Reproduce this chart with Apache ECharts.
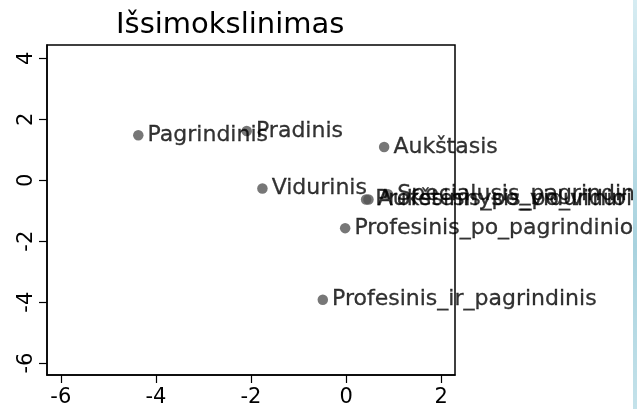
<!DOCTYPE html>
<html>
<head>
<meta charset="utf-8">
<script src="https://cdn.jsdelivr.net/npm/echarts@6/dist/echarts.min.js"></script>
<style>
  html, body { margin: 0; padding: 0; background: #fff; }
  #main { width: 637px; height: 409px; position: relative; }
  #strip { position: absolute; right: 0; top: 0; width: 4px; height: 409px;
    background: linear-gradient(to bottom, #d6ecf2, #a8d2de 60%, #c4e2ea); }
</style>
</head>
<body>
<div id="main"></div>
<div id="strip"></div>
<script>
// taškai
const names = ['Pagrindinis', 'Pradinis', 'Vidurinis', 'Aukštasis',
  'Profesinis_po_vidurinio', 'Aukštesnysis_po_vidurinio', 'Specialusis_pagrindinis',
  'Profesinis_po_pagrindinio', 'Profesinis_ir_pagrindinis'];
const xs = [-4.37, -2.09, -1.76, 0.80, 0.42, 0.47, 0.88, -0.02, -0.49];
const ys = [1.48, 1.62, -0.27, 1.09, -0.63, -0.63, -0.46, -1.57, -3.92];
const xTicks = [-6, -4, -2, 0, 2];
const yTicks = [-6, -4, -2, 0, 2, 4];

const font = 'DejaVu Sans';
let chart = echarts.init(document.getElementById('main'));

let axisBase = {
  axisLine: { show: true, onZero: false, lineStyle: { color: '#000', width: 1.5 } },
  axisTick: { show: true, length: 8, lineStyle: { color: '#000', width: 1.2 } },
  splitLine: { show: false },
};

chart.setOption({
  animation: false,
  title: {
    text: 'Išsimokslinimas',
    left: 111, top: 6,
    textStyle: { fontFamily: font, fontSize: 29, fontWeight: 'normal', color: '#000' }
  },
  grid: { left: 47, right: 182, top: 45, bottom: 34, show: true, borderColor: '#000', borderWidth: 1.5 },
  xAxis: Object.assign({}, axisBase, {
    type: 'value', min: -6.29, max: 2.29,
    axisTick: Object.assign({}, axisBase.axisTick, { customValues: xTicks }),
    axisLabel: { customValues: xTicks, margin: 12, fontFamily: font, fontSize: 21, color: '#000' }
  }),
  yAxis: Object.assign({}, axisBase, {
    type: 'value', min: -6.39, max: 4.44,
    axisTick: Object.assign({}, axisBase.axisTick, { customValues: yTicks }),
    axisLabel: { customValues: yTicks, rotate: 90, margin: 10, fontFamily: font, fontSize: 21, color: '#000' }
  }),
  series: [{
    type: 'scatter',
    symbolSize: 10.5,
    itemStyle: { color: '#555' },
    data: names.map((n, i) => ({ name: n, value: [xs[i], ys[i]] })),
    label: {
      show: true, position: 'right', distance: 4,
      formatter: p => p.name,
      fontFamily: font, fontSize: 22, color: '#000',
      textBorderColor: '#000', textBorderWidth: 0.3
    },
    labelLayout: { hideOverlap: false }
  }]
});
</script>
</body>
</html>
